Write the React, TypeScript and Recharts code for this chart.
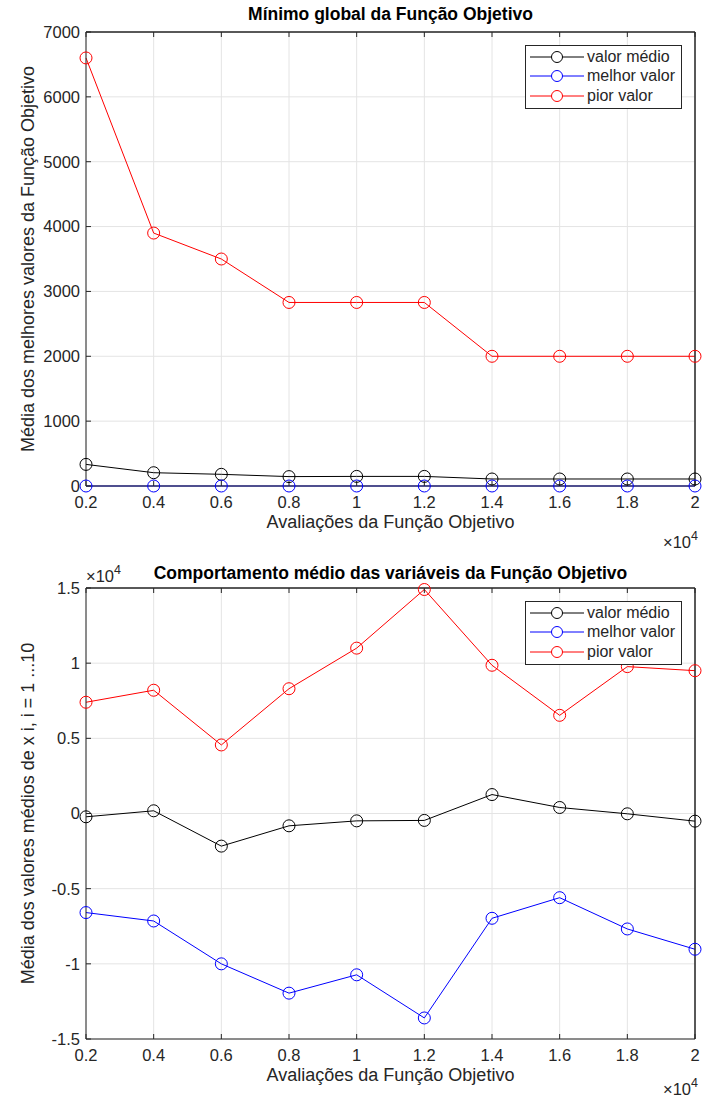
import { LineChart, Line, XAxis, YAxis, CartesianGrid, Legend, Label, ReferenceLine } from 'recharts'

const evaluations = [2000, 4000, 6000, 8000, 10000, 12000, 14000, 16000, 18000, 20000]

// Mínimo global
const globalMean = [333, 205, 180, 145, 148, 148, 108, 108, 108, 108]
const globalBest = [0, 0, 0, 0, 0, 0, 0, 0, 0, 0]
const globalWorst = [6600, 3900, 3500, 2830, 2830, 2830, 2000, 2000, 2000, 2000]
const globalTicks = [0, 1000, 2000, 3000, 4000, 5000, 6000, 7000]

// Comportamento médio das variáveis
const varMean = [-220, 180, -2170, -820, -490, -460, 1260, 400, -20, -510]
const varBest = [-6590, -7150, -10000, -11950, -10730, -13600, -6970, -5600, -7680, -9030]
const varWorst = [7400, 8200, 4560, 8300, 11000, 14900, 9860, 6530, 9770, 9500]
const varTicks = [-15000, -10000, -5000, 0, 5000, 10000, 15000]

const seriesNames = ['valor médio', 'melhor valor', 'pior valor']
const seriesColors = ['#000000', '#0000ff', '#ff0000']

const FONT = '"Liberation Sans", Arial, Helvetica, sans-serif'
const AXIS = '#262626'
const GRID = '#e4e4e4'
const PLOT_LEFT = 86
const PLOT_RIGHT = 695

function buildRows(mean: number[], best: number[], worst: number[]) {
  return evaluations.map((x, i) => ({ x, mean: mean[i], best: best[i], worst: worst[i] }))
}

// legend drawn from our own arrays so the order stays as in the figure
function LegendBox() {
  return (
    <div
      style={{
        width: 155,
        height: 60,
        border: `1px solid ${AXIS}`,
        background: '#fff',
        padding: '1px 0',
        fontFamily: FONT,
        fontSize: 16,
        color: AXIS,
      }}
    >
      {seriesNames.map((name, i) => (
        <div key={name} style={{ display: 'flex', alignItems: 'center', height: 19.5, whiteSpace: 'nowrap' }}>
          <svg width={58} height={14} style={{ marginRight: 3, flex: 'none' }}>
            <line x1={4} y1={7} x2={58} y2={7} stroke={seriesColors[i]} strokeWidth={1} />
            <circle cx={31} cy={7} r={5.5} fill="#fff" stroke={seriesColors[i]} strokeWidth={1} />
          </svg>
          <span>{name}</span>
        </div>
      ))}
    </div>
  )
}

function Exponent({ x, y, anchor }: { x: number; y: number; anchor: 'start' | 'end' }) {
  return (
    <text x={x} y={y} textAnchor={anchor} fill={AXIS} fontFamily={FONT} fontSize={16.5}>
      ×10<tspan dy={-8} fontSize={12.5}>4</tspan>
    </text>
  )
}

interface PlotProps {
  height: number
  top: number
  xAxisHeight: number
  data: { x: number; mean: number; best: number; worst: number }[]
  yDomain: [number, number]
  yTicks: number[]
  yFormat: (v: number) => string
  title: string
  titleGap: number
  yLabel: string
  xExpOffset: number
  exponentOnTop?: boolean
}

function MatlabPlot(p: PlotProps) {
  const { height, top, xAxisHeight, data, yDomain, yTicks, yFormat, title, titleGap, yLabel, xExpOffset, exponentOnTop } = p
  const tickStyle = { fill: AXIS, fontSize: 16.5, fontFamily: FONT }
  const blank = () => ''
  const plotBottom = height - xAxisHeight
  return (
    <LineChart width={702} height={height} data={data} margin={{ top, right: 702 - PLOT_RIGHT - 1, left: PLOT_LEFT - 50, bottom: 0 }}>
      <CartesianGrid stroke={GRID} strokeWidth={1} />
      <XAxis
        dataKey="x"
        type="number"
        domain={[2000, 20000]}
        ticks={evaluations}
        tickFormatter={(v: number) => String(v / 10000)}
        height={xAxisHeight}
        stroke={AXIS}
        tick={tickStyle}
        tickSize={-5}
        tickMargin={15}
        interval={0}
      >
        <Label
          content={() => (
            <text
              x={(PLOT_LEFT + PLOT_RIGHT) / 2}
              y={plotBottom + 42}
              textAnchor="middle"
              fill={AXIS}
              fontFamily={FONT}
              fontSize={18}
            >
              Avaliações da Função Objetivo
            </text>
          )}
        />
        <Label content={() => <Exponent x={PLOT_RIGHT + 3} y={plotBottom + xExpOffset} anchor="end" />} />
      </XAxis>
      <XAxis
        xAxisId="top"
        dataKey="x"
        type="number"
        orientation="top"
        domain={[2000, 20000]}
        ticks={evaluations}
        tickFormatter={blank}
        height={1}
        stroke={AXIS}
        tickSize={-5}
        interval={0}
      />
      <YAxis
        type="number"
        domain={yDomain}
        ticks={yTicks}
        tickFormatter={yFormat}
        width={50}
        stroke={AXIS}
        tick={tickStyle}
        tickSize={-5}
        tickMargin={11}
        interval={0}
      >
        <Label
          content={({ viewBox }: any) => {
            const cy = viewBox.y + viewBox.height / 2
            return (
              <g>
                <text
                  x={28}
                  y={cy}
                  transform={`rotate(-90 28 ${cy})`}
                  textAnchor="middle"
                  dominantBaseline="central"
                  fill={AXIS}
                  fontFamily={FONT}
                  fontSize={18}
                >
                  {yLabel}
                </text>
                <text
                  x={(PLOT_LEFT + PLOT_RIGHT) / 2}
                  y={top - titleGap}
                  textAnchor="middle"
                  fill="#000"
                  fontFamily={FONT}
                  fontSize={17.5}
                  fontWeight="bold"
                >
                  {title}
                </text>
                {exponentOnTop && <Exponent x={PLOT_LEFT} y={top - 5} anchor="start" />}
              </g>
            )
          }}
        />
      </YAxis>
      <YAxis
        yAxisId="right"
        type="number"
        orientation="right"
        domain={yDomain}
        ticks={yTicks}
        tickFormatter={blank}
        width={1}
        stroke={AXIS}
        tickSize={-5}
        interval={0}
      />
      <ReferenceLine y={yDomain[1]} stroke={AXIS} />
      <ReferenceLine x={20000} stroke={AXIS} />
      <Legend
        layout="vertical"
        align="center"
        verticalAlign="middle"
        content={<LegendBox />}
        wrapperStyle={{ position: 'absolute', left: 525, top: top + 14, width: 'auto', height: 'auto' }}
      />
      {(['mean', 'best', 'worst'] as const).map((key, i) => (
        <Line
          key={key}
          dataKey={key}
          name={seriesNames[i]}
          stroke={seriesColors[i]}
          strokeWidth={1}
          dot={{ r: 6, fill: 'none', stroke: seriesColors[i], strokeWidth: 1 }}
          activeDot={false}
          isAnimationActive={false}
        />
      ))}
    </LineChart>
  )
}

export default function App() {
  return (
    <div style={{ position: 'absolute', left: 0, top: 0, width: 702, height: 1097, background: '#fff' }}>
      <MatlabPlot
        height={550}
        top={31}
        xAxisHeight={64}
        data={buildRows(globalMean, globalBest, globalWorst)}
        yDomain={[0, 7000]}
        yTicks={globalTicks}
        yFormat={(v: number) => String(v)}
        title="Mínimo global da Função Objetivo"
        titleGap={11}
        yLabel="Média dos melhores valores da Função Objetivo"
        xExpOffset={62}
      />
      <MatlabPlot
        height={547}
        top={37}
        xAxisHeight={58}
        data={buildRows(varMean, varBest, varWorst)}
        yDomain={[-15000, 15000]}
        yTicks={varTicks}
        yFormat={(v: number) => String(v / 10000)}
        title="Comportamento médio das variáveis da Função Objetivo"
        titleGap={8}
        yLabel="Média dos valores médios de x i, i = 1 ...10"
        xExpOffset={56}
        exponentOnTop
      />
    </div>
  )
}
